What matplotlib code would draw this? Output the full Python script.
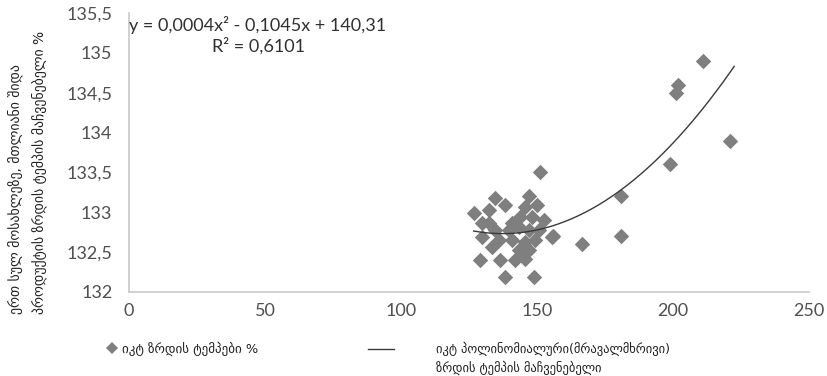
import numpy as np
import matplotlib
matplotlib.use("Agg")
import matplotlib.pyplot as plt
from matplotlib.ticker import FuncFormatter, MultipleLocator
from matplotlib.lines import Line2D

plt.rcParams['font.family'] = ['Lato', 'DejaVu Sans']

# ICT growth rates (%) vs GDP per capita growth index (%)
ict_growth = [126.7, 134.7, 138.4, 132.2, 146.9, 150.0, 143.9, 148.2, 152.4, 132.2,
              134.7, 129.8, 139.6, 143.3, 146.9, 150.6, 155.5, 135.9, 140.8, 145.7,
              149.4, 133.5, 143.3, 146.9, 129.2, 136.5, 142.0, 145.7, 138.4, 148.8,
              129.8, 140.8, 145.7,
              151.0, 166.5, 156.0, 181.0, 181.0, 199.0, 201.0, 202.0, 211.0, 221.0]
gdp_growth = [132.99, 133.18, 133.09, 133.03, 133.20, 133.09, 132.94, 132.94, 132.90, 132.86,
              132.78, 132.69, 132.78, 132.82, 132.78, 132.78, 132.69, 132.65, 132.65, 132.63,
              132.65, 132.57, 132.53, 132.53, 132.40, 132.40, 132.40, 132.42, 132.19, 132.19,
              132.86, 132.86, 133.07,
              133.50, 132.60, 132.70, 133.20, 132.70, 133.60, 134.50, 134.60, 134.90, 133.90]

equation_text = "y = 0,0004x\u00b2 - 0,1045x + 140,31"
r2_text = "R\u00b2 = 0,6101"
ylabel_text = "ერთ სულ მოსახლეზე, მთლიანი შიდა\nპროდუქტის ზრდის ტემპის მაჩვენებელი %"
legend_scatter = "იკტ ზრდის ტემპები %"
legend_trend = "იკტ პოლინომიალური(მრავალმხრივი)\nზრდის ტემპის მაჩვენებელი"

x = np.array(ict_growth)
y = np.array(gdp_growth)

fig = plt.figure(figsize=(8.27, 3.76), dpi=100)
ax = fig.add_axes([129/827, 1-292/376, (809-129)/827, (292-13)/376])

ax.scatter(x, y, marker='D', s=62, color='#7f7f7f', linewidths=0, zorder=3)

coef = np.polyfit(x, y, 2)
xs = np.linspace(x.min(), x.max() + 1.5, 200)
ax.plot(xs, np.polyval(coef, xs), color='#3a3a3a', lw=1.0, zorder=4)

ax.set_xlim(0, 250)
ax.set_ylim(132, 135.5)
ax.xaxis.set_major_locator(MultipleLocator(50))
ax.yaxis.set_major_locator(MultipleLocator(0.5))
fmt = FuncFormatter(lambda v, p: f"{v:g}".replace('.', ','))
ax.xaxis.set_major_formatter(fmt)
ax.yaxis.set_major_formatter(fmt)

for s in ['top', 'right']:
    ax.spines[s].set_visible(False)
for s in ['left', 'bottom']:
    ax.spines[s].set_color('#c8c8c8')
    ax.spines[s].set_linewidth(1.2)

ax.tick_params(axis='both', length=0, labelsize=13, labelcolor='#505050')
ax.tick_params(axis='y', pad=12)
ax.tick_params(axis='x', pad=8)

ax.text(0.0, 0.957, equation_text, transform=ax.transAxes, fontsize=13,
        color='#303030', ha='left', va='center')
ax.text(0.19, 0.882, r2_text, transform=ax.transAxes, fontsize=13,
        color='#303030', ha='center', va='center')

ax.set_ylabel(ylabel_text, fontsize=10, color='#202020', linespacing=1.7,
              multialignment='left', family=['DejaVu Sans'])
ax.yaxis.set_label_coords(-0.12, 0.43)

trend_lines = legend_trend.split('\n')
h1 = Line2D([], [], marker='D', ls='none', color='#7f7f7f', markersize=6, markeredgewidth=0)
h2 = Line2D([], [], color='#3a3a3a', lw=1.0)
leg1 = fig.legend([h1], [legend_scatter], loc='center left',
                  bbox_to_anchor=(106/827, 1-349/376), frameon=False,
                  handlelength=0.9, handletextpad=0.35, borderaxespad=0, borderpad=0,
                  prop={'family': ['DejaVu Sans'], 'size': 9.4})
leg2 = fig.legend([h2], [trend_lines[0]], loc='center left',
                  bbox_to_anchor=(368/827, 1-349/376), frameon=False,
                  handlelength=2.1, handletextpad=3.3, borderaxespad=0, borderpad=0,
                  prop={'family': ['DejaVu Sans'], 'size': 9.0})
for leg in (leg1, leg2):
    for t in leg.get_texts():
        t.set_color('#202020')

fig.canvas.draw()
bb = leg2.get_texts()[0].get_window_extent()
fig.text(bb.x0 / fig.bbox.width, 1 - 368/376, trend_lines[1], ha='left', va='center',
         family=['DejaVu Sans'], fontsize=9.0, color='#202020')

fig.savefig("out.png", dpi=100)
